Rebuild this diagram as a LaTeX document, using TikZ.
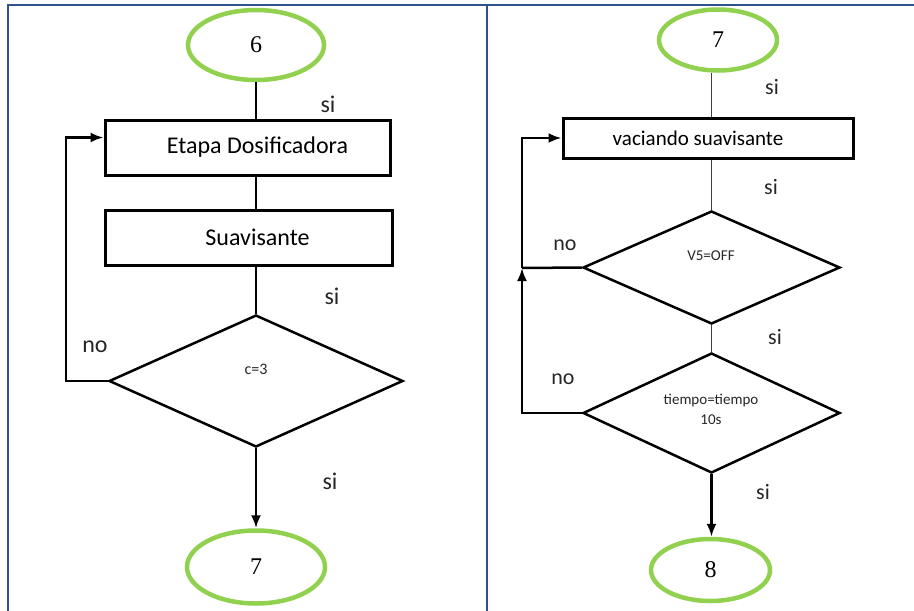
\documentclass[tikz,border=0pt]{standalone}
\usepackage{fontspec}
\setmainfont{Carlito}
\newfontfamily\numfont{Liberation Serif}
\usetikzlibrary{arrows,arrows.meta,shapes,positioning,shapes.geometric}
\definecolor{termgreen}{RGB}{146,208,80}
\definecolor{frameblue}{RGB}{47,82,143}
\tikzset{
term/.style = {ellipse, draw=termgreen, line width=4.5pt, inner sep=0pt, font=\numfont\fontsize{24}{26}\selectfont},% inicio / fin
proc/.style = {rectangle, draw=black, line width=3pt, inner sep=0pt, font=\fontsize{24}{28}\selectfont},% proceso
decis/.style = {diamond, draw=black, line width=2.5pt, inner sep=0pt},% decision
dtext/.style = {align=center, inner sep=0pt, font=\fontsize{15}{20}\selectfont, text=black!85},
lbl/.style = {inner sep=0pt, font=\fontsize{24}{28}\selectfont, text=black!85},
conn/.style = {draw=black, line width=2.5pt},
thinconn/.style = {draw=black!75, line width=1.8pt},
arr/.style = {-{Latex[length=13pt,width=10pt]}},
frame/.style = {draw=frameblue, line width=2pt}
}
\begin{document}
\begin{tikzpicture}[x=1pt,y=-1pt]
\useasboundingbox (0,0) rectangle (914,611);
% marco
\draw[frame] (8,611) -- (8,5) -- (914,5);
\draw[frame] (487,5) -- (487,611);

% lado izquierdo
\node[term, minimum width=136pt, minimum height=70pt] (t6) at (256,45) {6};
\node[proc, minimum width=285pt, minimum height=55pt] (dosif) at (247.5,147.5) {\hspace*{20pt}Etapa Dosificadora};
\node[proc, minimum width=287pt, minimum height=55pt] (suav) at (248.5,237.5) {\hspace*{18pt}Suavisante};
\node[decis, minimum width=294pt, minimum height=132pt] (cont) at (256,381) {};
\node[dtext, font=\fontsize{16}{20}\selectfont] (contt) at (256,369) {c=3};
\node[term, minimum width=138pt, minimum height=73pt] (t7) at (256,567) {7};

\node[lbl] (si1) at (328,104) {si};
\node[lbl] (si2) at (332,296) {si};
\node[lbl] (no1) at (95,347) {no};
\node[lbl] (si3) at (330,481) {si};

\draw[conn] (t6.south) -- (t6.south |- dosif.north);
\draw[conn] (t6.south |- dosif.south) -- (t6.south |- suav.north);
\draw[conn] (t6.south |- suav.south) -- (cont.north);
\draw[conn,arr] (cont.south) -- (cont.south |- t7.north);
\coordinate (retl) at (66,137.5);
\draw[conn,arr] (cont.west) -| (retl) -- ([yshift=10pt]dosif.west);

% lado derecho
\node[term, minimum width=118pt, minimum height=61pt] (t7b) at (718,40) {7};
\node[proc, minimum width=290pt, minimum height=40pt, font=\fontsize{21}{24}\selectfont] (vac) at (708,138) {vaciando suavisante\hspace*{20pt}};
\node[decis, minimum width=257pt, minimum height=113pt] (v5) at (711.5,267.5) {};
\node[dtext] (v5t) at (711,256) {V5=OFF};
\node[decis, minimum width=257pt, minimum height=120pt] (tiem) at (711.5,413) {};
\node[dtext] (tiemt) at (711,409) {tiempo=tiempo\\10s};
\node[term, minimum width=119pt, minimum height=62pt] (t8) at (710.5,570) {8};

\node[lbl, font=\fontsize{22}{26}\selectfont] (si4) at (772,87) {si};
\node[lbl, font=\fontsize{22}{26}\selectfont] (si5) at (771,187) {si};
\node[lbl, font=\fontsize{22}{26}\selectfont] (no2) at (565,245) {no};
\node[lbl, font=\fontsize{22}{26}\selectfont] (si6) at (775,337) {si};
\node[lbl, font=\fontsize{22}{26}\selectfont] (no3) at (563,379) {no};
\node[lbl, font=\fontsize{22}{26}\selectfont] (si7) at (763,492) {si};

\draw[thinconn] (v5.north |- t7b.south) -- (v5.north |- vac.north);
\draw[thinconn] (v5.north |- vac.south) -- (v5.north);
\draw[thinconn] (v5.south) -- (tiem.north);
\draw[conn,arr] (tiem.south) -- (tiem.south |- t8.north);
\coordinate (junta) at (522,268);
\draw[conn,arr] (tiem.west) -| (junta);
\draw[conn] (v5.west) -- (junta);
\draw[conn,arr] (junta) |- (vac.west);
\end{tikzpicture}
\end{document}
